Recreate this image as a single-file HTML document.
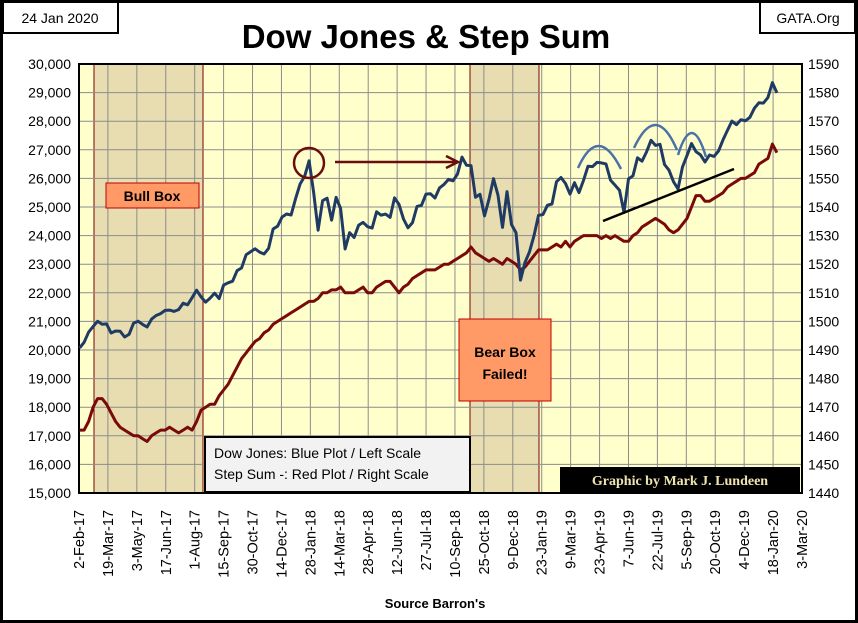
<!DOCTYPE html>
<html><head><meta charset="utf-8"><style>
html,body{margin:0;padding:0;background:#fff;}
svg{display:block;font-family:"Liberation Sans",sans-serif;}
</style></head><body>
<svg id="c" width="858" height="623" viewBox="0 0 858 623" xmlns="http://www.w3.org/2000/svg">
<rect x="1.5" y="1.5" width="855" height="620" fill="#fff" stroke="#000" stroke-width="3"/>
<rect x="3" y="2" width="115" height="31" fill="#fff" stroke="#000" stroke-width="2"/>
<text x="60" y="23" font-size="14" text-anchor="middle">24 Jan 2020</text>
<rect x="760" y="2" width="95" height="31" fill="#fff" stroke="#000" stroke-width="2"/>
<text x="808" y="23" font-size="14" text-anchor="middle">GATA.Org</text>
<text x="426" y="48" font-size="33" font-weight="bold" text-anchor="middle">Dow Jones &amp; Step Sum</text>
<g id="plot"></g>
<text x="435" y="608" font-size="13" font-weight="bold" text-anchor="middle">Source Barron's</text>
</svg>
<script>
const tickLabels=["2-Feb-17","19-Mar-17","3-May-17","17-Jun-17","1-Aug-17","15-Sep-17","30-Oct-17","14-Dec-17","28-Jan-18","14-Mar-18","28-Apr-18","12-Jun-18","27-Jul-18","10-Sep-18","25-Oct-18","9-Dec-18","23-Jan-19","9-Mar-19","23-Apr-19","7-Jun-19","22-Jul-19","5-Sep-19","20-Oct-19","4-Dec-19","18-Jan-20","3-Mar-20"];
const leftTicks=[15000,16000,17000,18000,19000,20000,21000,22000,23000,24000,25000,26000,27000,28000,29000,30000];
const rightTicks=[1440,1450,1460,1470,1480,1490,1500,1510,1520,1530,1540,1550,1560,1570,1580,1590];
const dow=[20071,20269,20624,20822,21005,20902,20914,20596,20663,20656,20453,20548,20940,21006,20896,20804,21080,21206,21271,21384,21394,21349,21414,21637,21580,21830,22092,21858,21674,21813,21987,21797,22268,22349,22405,22773,22871,23328,23434,23539,23422,23358,23557,24231,24329,24651,24754,24719,
25295,25803,26071,26616,25520,24190,25219,25309,24538,25335,24946,23533,24103,23933,24360,24462,24311,24263,24831,24715,24753,24635,25317,25090,24580,24271,24456,25019,25058,25451,25463,25313,25669,25790,25965,25917,26155,26744,26458,26447,25340,25444,24688,25271,25989,25413,24286,25538,24389,24100,22445,23062,
23433,23996,24706,24737,25064,25106,25883,26031,25820,25450,25849,25502,25929,26425,26412,26559,26543,26505,25942,25764,25586,24815,25984,26090,26720,26600,26922,27332,27154,27192,26485,26287,25886,25629,26403,26797,27220,26935,26820,26573,26817,26770,26958,27347,27681,28005,27876,28051,28015,28135,28455,28645,
28634,28824,29348,28990];
const stepSum=[1462,1462,1465,1470,1473,1473,1471,1468,1465,1463,1462,1461,1460,1460,1459,1458,1460,1461,1462,1462,1463,1462,1461,1462,1463,1462,1465,1469,1470,1471,1471,1474,1476,1478,1481,1484,1487,1489,1491,1493,1494,1496,1497,1499,1500,1501,1502,1503,
1504,1505,1506,1507,1507,1508,1510,1510,1511,1511,1512,1510,1510,1510,1511,1512,1510,1510,1512,1513,1514,1514,1512,1510,1512,1513,1515,1516,1517,1518,1518,1518,1519,1520,1520,1521,1522,1523,1524,1526,1524,1523,1522,1521,1522,1521,1520,1522,1521,1520,1518,1519,
1521,1523,1525,1525,1525,1526,1527,1526,1528,1526,1528,1529,1530,1530,1530,1530,1529,1530,1529,1530,1529,1528,1528,1530,1531,1533,1534,1535,1536,1535,1534,1532,1531,1532,1534,1536,1540,1544,1544,1542,1542,1543,1544,1545,1547,1548,1549,1550,1550,1551,1552,1555,
1556,1557,1562,1559];
const firstDay=1, weekDays=7;
const NS="http://www.w3.org/2000/svg";
const X0=79,X1=802,Y0=493,Y1=64,DAYS=1125;
const xDay=d=>X0+d*(X1-X0)/DAYS;
const yL=v=>Y0-(v-15000)*(Y0-Y1)/15000;
const yR=v=>Y0-(v-1440)*(Y0-Y1)/150;
const g=document.getElementById('plot');
function mk(t,a,p){const e=document.createElementNS(NS,t);for(const k in a)e.setAttribute(k,a[k]);(p||g).appendChild(e);return e;}
let e=mk('rect',{x:X0,y:Y1,width:X1-X0,height:Y0-Y1,fill:'#ffffcc'});


e=mk('rect',{x:94,y:Y1,width:109,height:Y0-Y1,fill:'#e8ddb0',stroke:'#7a0000','stroke-width':1});


e=mk('rect',{x:470,y:Y1,width:69,height:Y0-Y1,fill:'#e8ddb0',stroke:'#7a0000','stroke-width':1});


leftTicks.forEach(v=>{const y=yL(v);
 e=mk('line',{x1:X0,x2:X1,y1:y,y2:y,stroke:'#8c8c8c','stroke-width':1});
 
 
 e=mk('text',{x:X0-8,y:y+5,'font-size':14,'text-anchor':'end'});e.textContent=v.toLocaleString('en-US');
 
 
});
rightTicks.forEach(v=>{const y=yR(v);
 e=mk('text',{x:X1+6,y:y+5,'font-size':14});e.textContent=v;
 
 
});
tickLabels.forEach((t,i)=>{const x=xDay(i*45);
 e=mk('line',{x1:x,x2:x,y1:Y1,y2:Y0,stroke:'#8c8c8c','stroke-width':1});
 
 
 e=mk('text',{x:0,y:0,'font-size':14.5,'text-anchor':'end',transform:`translate(${x+5},510) rotate(-90)`});e.textContent=t;
 
 
});
e=mk('rect',{x:X0,y:Y1,width:X1-X0,height:Y0-Y1,fill:'none',stroke:'#000','stroke-width':2});


function line(arr,yf,col,name){const pts=arr.map((v,i)=>xDay(firstDay+i*weekDays).toFixed(1)+','+yf(v).toFixed(1)).join(' ');
 const p=mk('polyline',{points:pts,fill:'none',stroke:col,'stroke-width':3,'stroke-linejoin':'round'});
 
 }
line(stepSum,yR,'#7a0a0a','step-sum-line');
line(dow,yL,'#1f3b64','dow-jones-line');
e=mk('circle',{cx:309,cy:163,r:15,fill:'none',stroke:'#6b0d0d','stroke-width':2.5});


e=mk('path',{d:'M335 162 L456 162 M446 156 L458 162 L446 168',fill:'none',stroke:'#6b0d0d','stroke-width':2.5});


[[578,168,598,146,621,169],[634,148,656,125,677,150],[678,155,692,133,706,157]].forEach(a=>{
 e=mk('path',{d:`M${a[0]} ${a[1]} Q${a[2]} ${2*a[3]-(a[1]+a[5])/2} ${a[4]} ${a[5]}`,fill:'none',stroke:'#4a72a8','stroke-width':2.5});
 
 
});
e=mk('line',{x1:603,y1:221,x2:734,y2:169,stroke:'#000','stroke-width':2.5});


e=mk('rect',{x:106,y:183,width:93,height:25,fill:'#ff9966',stroke:'#c00000','stroke-width':1});


e=mk('text',{x:152,y:201,'font-size':14,'font-weight':'bold','text-anchor':'middle'});e.textContent='Bull Box';


e=mk('rect',{x:459,y:319,width:92,height:82,fill:'#ff9966',stroke:'#c00000','stroke-width':1});


e=mk('text',{x:505,y:357,'font-size':14,'font-weight':'bold','text-anchor':'middle'});e.textContent='Bear Box';


e=mk('text',{x:505,y:379,'font-size':14,'font-weight':'bold','text-anchor':'middle'});e.textContent='Failed!';


e=mk('rect',{x:205,y:437,width:265,height:55,fill:'#f2f2f2',stroke:'#000','stroke-width':2});


e=mk('text',{x:214,y:458,'font-size':14});e.textContent='Dow Jones: Blue Plot / Left Scale';


e=mk('text',{x:214,y:479,'font-size':14});e.textContent='Step Sum -: Red Plot / Right Scale';


e=mk('rect',{x:560,y:467,width:240,height:25,fill:'#000'});


e=mk('text',{x:680,y:485,'font-size':14,'font-weight':'bold','text-anchor':'middle',fill:'#efe4b0','font-family':'Liberation Serif, serif'});e.textContent='Graphic by Mark J. Lundeen';


</script>
</body></html>
